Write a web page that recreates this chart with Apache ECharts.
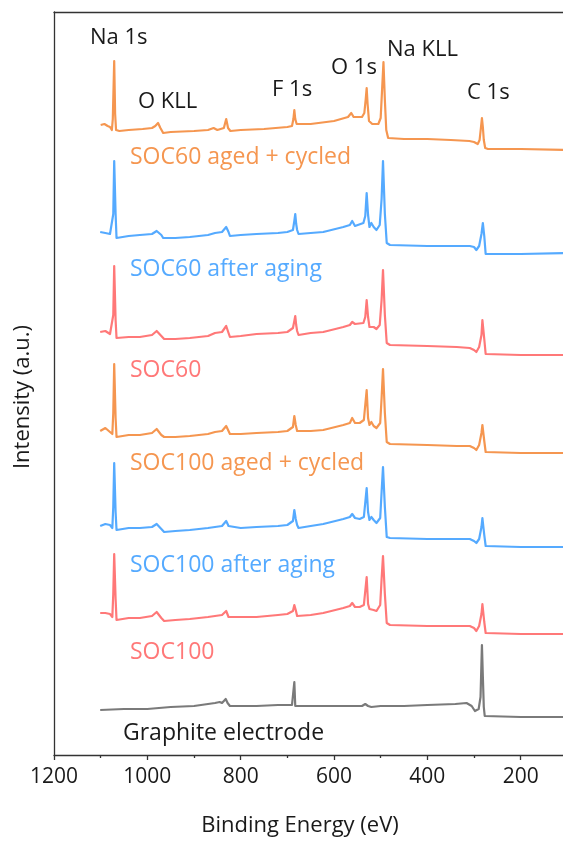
<!DOCTYPE html>
<html>
<head>
<meta charset="utf-8">
<script src="https://cdn.jsdelivr.net/npm/echarts@6/dist/echarts.min.js"></script>
<style>
  html, body { margin: 0; padding: 0; background: #fff; }
  #chart { width: 563px; height: 845px; }
</style>
</head>
<body>
<div id="chart"></div>
<script>
// XPS survey spectra, stacked with a vertical offset per sample.
// Each spectrum: [binding energy (eV), intensity above its own low-BE baseline (a.u.)]

const energyTicks = [1200, 1000, 800, 600, 400, 200];

const seriesNames = [
  'SOC60 aged + cycled',
  'SOC60 after aging',
  'SOC60',
  'SOC100 aged + cycled',
  'SOC100 after aging',
  'SOC100',
  'Graphite electrode'
];

// vertical stacking offset of each spectrum (a.u.)
const seriesOffsets = [606, 501, 400, 302, 208, 121, 38];

const peakNames = ['Na 1s', 'O KLL', 'F 1s', 'O 1s', 'Na KLL', 'C 1s'];

const soc60AgedCycled = [
  [1100,24],[1092,25],[1085,23],[1080,22],[1076,19],[1074,30],[1071,88],[1069,35],[1067,19],
  [1060,18],[1040,19],[1010,20],[990,21],[983,23],[977,26],[972,21],[966,16],[950,17],[900,18],
  [870,19],[858,21],[850,19],[836,21],[831,30],[827,21],[822,18],[800,19],[750,20],[700,22],
  [690,23],[687,30],[685,39],[683,30],[680,25],[650,25],[600,28],[570,32],[563,36],[558,32],
  [540,32],[535,36],[532,50],[530,61],[528,45],[525,28],[518,25],[505,25],[500,31],[497,59],
  [494,87],[491,49],[488,19],[484,11],[450,10],[400,10],[350,9],[310,8],[300,7],[292,5],
  [288,9],[285,22],[283,31],[281,22],[279,9],[276,1],[270,0],[200,0],[105,-1]
];

const soc60AfterAging = [
  [1101,22],[1090,21],[1080,20],[1076,19],[1073,40],[1071,93],[1068,40],[1066,16],[1040,18],
  [1016,19],[990,20],[980,23],[976,25],[970,19],[966,16],[940,16],[909,17],[870,19],[855,21],
  [840,22],[831,27],[826,22],[823,18],[800,19],[766,20],[720,21],[700,22],[688,24],[685,33],
  [683,40],[681,30],[679,24],[676,20],[650,21],[623,22],[580,27],[566,29],[561,33],[555,28],
  [537,31],[533,38],[530,61],[527,39],[524,27],[520,31],[515,27],[509,24],[502,29],[498,55],
  [495,93],[491,40],[487,11],[480,9],[400,8],[337,8],[309,8],[300,7],[295,4],[289,8],
  [284,20],[281,31],[278,18],[275,0],[200,0],[105,1]
];

const soc60 = [
  [1101,23],[1090,24],[1080,21],[1076,20],[1073,40],[1071,89],[1068,35],[1066,17],[1040,18],
  [1016,18],[990,20],[980,24],[976,25],[970,19],[964,16],[940,16],[909,17],[870,19],[855,22],
  [840,23],[831,29],[826,22],[823,18],[800,19],[766,21],[720,22],[700,23],[688,27],[685,34],
  [683,39],[681,30],[679,24],[676,20],[650,22],[623,23],[580,28],[566,30],[561,33],[555,31],
  [537,32],[533,38],[530,55],[527,38],[524,28],[520,30],[515,28],[509,26],[502,30],[498,55],
  [495,85],[491,40],[487,12],[480,10],[400,9],[337,8],[309,7],[300,5],[295,3],[289,8],
  [284,20],[282,35],[278,16],[275,1],[200,0],[105,0]
];

const soc100AgedCycled = [
  [1101,22],[1090,25],[1080,21],[1075,19],[1073,40],[1071,89],[1068,35],[1066,16],[1040,18],
  [1016,18],[990,20],[980,24],[976,25],[970,18],[964,16],[940,16],[909,17],[870,19],[855,21],
  [840,22],[831,27],[826,22],[823,19],[800,19],[766,20],[720,21],[700,22],[688,26],[685,37],
  [682,28],[679,22],[676,20],[650,22],[623,23],[580,28],[566,30],[561,35],[555,30],[545,30],
  [536,33],[530,63],[527,35],[524,28],[520,31],[515,27],[509,25],[501,30],[498,55],[495,84],
  [491,40],[487,11],[480,9],[400,8],[337,7],[309,7],[300,5],[295,3],[289,8],[284,20],
  [282,28],[278,12],[275,1],[200,0],[105,0]
];

const soc100AfterAging = [
  [1101,21],[1090,23],[1080,22],[1075,19],[1073,40],[1071,84],[1068,35],[1066,17],[1040,19],
  [1016,19],[990,20],[980,23],[976,24],[970,18],[964,15],[940,16],[909,17],[870,19],[855,20],
  [840,21],[831,26],[826,21],[823,19],[800,19],[766,20],[720,21],[700,22],[688,26],[685,37],
  [682,28],[679,22],[676,19],[650,21],[623,23],[580,28],[566,30],[561,33],[555,29],[545,28],
  [536,30],[530,59],[527,35],[524,27],[520,30],[515,27],[509,24],[501,29],[498,55],[495,80],
  [491,40],[487,10],[480,9],[400,8],[337,8],[309,8],[300,6],[295,4],[289,8],[284,20],
  [282,29],[278,12],[275,1],[200,0],[105,0]
];

const soc100 = [
  [1101,21],[1090,21],[1080,20],[1075,17],[1073,40],[1071,80],[1068,35],[1066,14],[1040,16],
  [1016,16],[990,18],[980,22],[976,23],[970,16],[964,13],[940,14],[909,15],[870,17],[855,18],
  [840,19],[831,23],[826,17],[823,16],[800,17],[766,17],[720,19],[700,20],[688,23],[685,29],
  [682,24],[679,18],[676,16],[650,19],[623,21],[580,26],[566,28],[561,31],[555,27],[545,27],
  [536,29],[530,57],[527,30],[524,25],[520,26],[515,24],[509,23],[501,29],[498,55],[495,78],
  [491,40],[487,11],[480,9],[400,8],[337,8],[309,8],[300,6],[295,3],[289,8],[284,20],
  [282,30],[278,12],[275,1],[200,0],[105,0]
];

const graphiteElectrode = [
  [1101,7],[1050,8],[1000,8],[950,10],[900,11],[870,13],[855,14],[845,15],[840,14],[832,18],
  [828,14],[823,11],[800,11],[766,11],[720,12],[700,12],[690,12],[688,14],[685,35],[683,11],
  [679,10],[650,11],[600,11],[540,11],[533,13],[530,14],[527,11],[520,10],[500,11],[450,11],
  [400,12],[340,13],[316,14],[305,11],[298,6],[295,5],[290,8],[286,20],[283,72],[281,40],
  [279,10],[277,1],[275,0],[200,0],[105,0]
];

const spectra = [
  soc60AgedCycled, soc60AfterAging, soc60,
  soc100AgedCycled, soc100AfterAging, soc100, graphiteElectrode
];

// ---- styling / layout ----
const FONT = '"Open Sans", "Noto Sans", sans-serif';
const ORANGE = '#F59650', BLUE = '#55AAFF', RED = '#FF7878', GRAY = '#7A7A7A';
const lineColors = [ORANGE, BLUE, RED, ORANGE, BLUE, RED, GRAY];
const labelColors = [ORANGE, BLUE, RED, ORANGE, BLUE, RED, '#1a1a1a'];
const seriesLabelPos = [[130,157],[130,269],[130,370],[130,463],[130,565],[130,652],[123,733]];
const peakLabelPos = [[90,38],[138,102],[272,90],[331,68],[387,50],[467,93]];
const AXIS = '#333';
const axisLine = { show: true, onZero: false, lineStyle: { color: AXIS, width: 1.3 } };

const chart = echarts.init(document.getElementById('chart'), null, { renderer: 'canvas' });

const series = spectra.map((pts, i) => ({
  name: seriesNames[i],
  type: 'line',
  data: pts.map(p => [p[0], p[1] + seriesOffsets[i]]),
  showSymbol: false,
  lineStyle: { color: lineColors[i], width: 2.2, join: 'round' },
  itemStyle: { color: lineColors[i] },
  z: 3
}));

const graphics = [];
seriesNames.forEach((n, i) => {
  graphics.push({
    type: 'text', x: seriesLabelPos[i][0], y: seriesLabelPos[i][1],
    style: { text: n, fill: labelColors[i], font: '23px ' + FONT, align: 'left', verticalAlign: 'middle' }
  });
});
peakNames.forEach((n, i) => {
  graphics.push({
    type: 'text', x: peakLabelPos[i][0], y: peakLabelPos[i][1],
    style: { text: n, fill: '#1a1a1a', font: '22px ' + FONT, align: 'left', verticalAlign: 'middle' }
  });
});

// the frame runs on past the right edge of the page (axis ends at 0 eV)
chart.setOption({
  animation: false,
  grid: { left: 54, top: 12, bottom: 90, width: 560, outerBoundsMode: 'none', show: false },
  xAxis: [
    {
      type: 'value', inverse: true, min: 0, max: 1200, interval: 200, position: 'bottom',
      splitLine: { show: false },
      axisLine: axisLine,
      name: 'Binding Energy (eV)',
      nameLocation: 'middle',
      nameGap: 60,
      nameTextStyle: { fontFamily: FONT, fontSize: 22, color: '#1a1a1a', padding: [0, 68, 0, 0] },
      axisTick: { show: true, inside: false, length: 5, lineStyle: { color: AXIS, width: 1.3 } },
      minorTick: { show: true, splitNumber: 2, length: 3, lineStyle: { color: AXIS, width: 1.3 } },
      axisLabel: {
        margin: 12, fontFamily: FONT, fontSize: 21, color: '#1a1a1a',
        formatter: v => energyTicks.includes(v) ? String(v) : ''
      }
    },
    {
      type: 'value', inverse: true, min: 0, max: 1200, interval: 200, position: 'top',
      splitLine: { show: false }, axisLine: axisLine,
      axisTick: { show: false }, axisLabel: { show: false }
    }
  ],
  yAxis: {
    type: 'value', min: 0, max: 743,
    name: 'Intensity (a.u.)',
    nameLocation: 'middle',
    nameGap: 20,
    nameTextStyle: { fontFamily: FONT, fontSize: 22, color: '#1a1a1a', padding: [0, 27, 0, 0] },
    axisLine: axisLine,
    axisTick: { show: false },
    axisLabel: { show: false },
    splitLine: { show: false }
  },
  series: series,
  graphic: graphics
});
</script>
</body>
</html>
